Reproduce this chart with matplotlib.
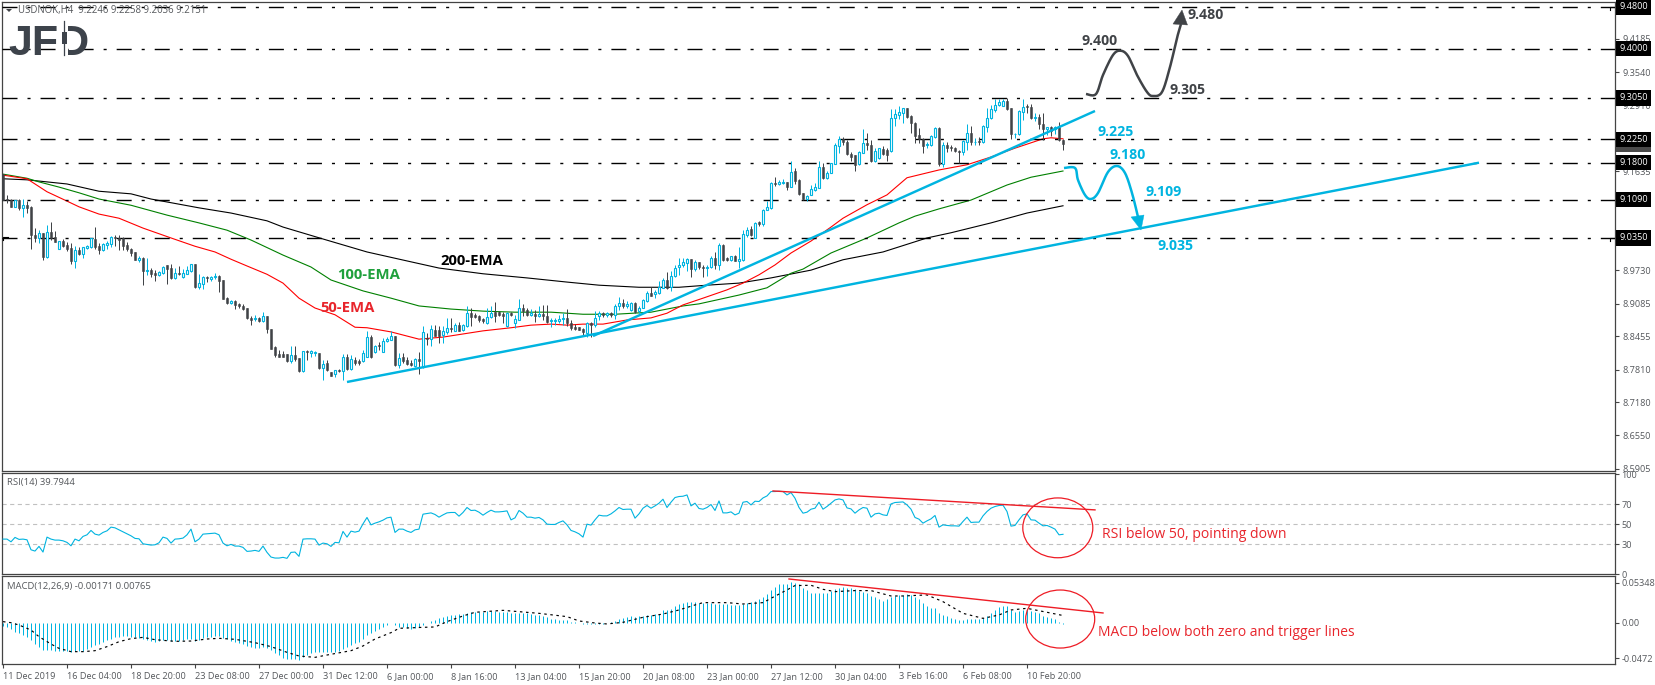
import numpy as np
import matplotlib
matplotlib.use("Agg")
import matplotlib.pyplot as plt
from matplotlib.patches import Ellipse, Polygon, Rectangle
from matplotlib.lines import Line2D
from matplotlib.transforms import ScaledTranslation

W, H = 1655, 685
plt.rcParams['font.family'] = ['Open Sans', 'DejaVu Sans']
plt.rcParams['lines.scale_dashes'] = False

symbol_title = "USDNOK,H4  9.2246 9.2258 9.2036 9.2151"
rsi_title = "RSI(14) 39.7944"
macd_title = "MACD(12,26,9) -0.00171 0.00765"

opens = [9.158,9.111,9.109,9.095,9.109,9.093,9.098,9.095,9.041,9.034,9.044,8.998,9.047,9.036,9.014,9.029,9.022,9.016,8.991,9.012,9.005,9.016,9.018,9.033,9.020,9.012,9.022,9.024,9.037,9.035,9.034,9.022,9.014,9.007,8.992,8.997,8.972,8.973,8.968,8.964,8.967,8.982,8.977,8.957,8.968,8.959,8.966,8.971,8.985,8.941,8.947,8.960,8.955,8.959,8.962,8.954,8.919,8.910,8.914,8.907,8.904,8.900,8.880,8.878,8.881,8.875,8.885,
8.860,8.824,8.811,8.811,8.811,8.797,8.809,8.803,8.778,8.817,8.814,8.814,8.814,8.784,8.794,8.776,8.772,8.781,8.778,8.805,8.782,8.800,8.798,8.797,8.806,8.845,8.815,8.828,8.816,8.836,8.839,8.846,8.790,8.805,8.800,8.795,8.789,8.801,8.787,8.842,8.841,8.858,8.857,8.848,8.853,8.862,8.856,8.868,8.857,8.866,8.891,8.887,8.885,8.878,8.871,8.882,8.893,8.892,8.889,8.866,8.890,8.872,8.877,8.901,8.896,8.887,8.889,8.885,
8.889,8.885,8.875,8.875,8.875,8.878,8.880,8.872,8.864,8.863,8.860,8.851,8.871,8.867,8.884,8.891,8.887,8.890,8.887,8.903,8.909,8.904,8.896,8.910,8.894,8.901,8.914,8.928,8.927,8.928,8.939,8.954,8.940,8.961,8.979,8.983,8.987,8.994,8.975,8.988,8.980,8.977,8.979,8.997,8.983,9.022,8.996,8.993,9.001,8.991,8.993,9.041,9.052,9.035,9.065,9.062,9.088,9.092,9.140,9.138,9.140,9.142,9.134,9.164,9.147,9.121,9.110,
9.118,9.127,9.132,9.172,9.150,9.161,9.178,9.213,9.225,9.220,9.196,9.194,9.178,9.199,9.217,9.215,9.183,9.190,9.206,9.205,9.203,9.267,9.272,9.276,9.285,9.269,9.256,9.233,9.226,9.214,9.214,9.229,9.246,9.177,9.215,9.211,9.208,9.203,9.201,9.220,9.238,9.219,9.222,9.219,9.249,9.267,9.281,9.291,9.290,9.299,9.285,9.235,9.235,9.278,9.289,9.288,9.267,9.268,9.254,9.244,9.248,9.245,9.248,9.2246]
highs = [9.158,9.118,9.111,9.109,9.110,9.110,9.107,9.096,9.054,9.050,9.045,9.060,9.066,9.049,9.030,9.033,9.027,9.025,9.020,9.017,9.018,9.022,9.035,9.056,9.025,9.026,9.029,9.039,9.040,9.040,9.036,9.028,9.015,9.007,9.000,8.998,8.997,8.977,8.973,8.972,8.981,8.982,8.985,8.977,8.981,8.975,8.981,8.985,8.985,8.966,8.962,8.961,8.961,8.968,8.964,8.954,8.922,8.916,8.916,8.909,8.907,8.900,8.884,8.887,8.882,8.893,8.885,
8.860,8.826,8.819,8.818,8.811,8.826,8.826,8.803,8.818,8.819,8.819,8.818,8.814,8.800,8.800,8.776,8.781,8.782,8.812,8.812,8.810,8.805,8.801,8.819,8.856,8.848,8.829,8.835,8.842,8.845,8.855,8.846,8.813,8.814,8.806,8.800,8.803,8.816,8.866,8.851,8.867,8.868,8.866,8.866,8.880,8.880,8.871,8.873,8.870,8.903,8.901,8.890,8.887,8.880,8.901,8.903,8.912,8.894,8.893,8.893,8.893,8.887,8.917,8.908,8.901,8.898,8.896,8.903,
8.906,8.906,8.880,8.880,8.887,8.891,8.898,8.877,8.869,8.864,8.862,8.874,8.874,8.894,8.895,8.893,8.892,8.892,8.908,8.922,8.917,8.914,8.912,8.912,8.903,8.918,8.932,8.940,8.934,8.953,8.957,8.970,8.972,8.983,8.997,8.996,8.996,8.995,8.993,8.989,8.983,8.983,9.000,9.007,9.025,9.023,8.998,9.001,9.002,9.018,9.050,9.056,9.058,9.066,9.068,9.090,9.107,9.143,9.152,9.147,9.148,9.143,9.183,9.169,9.148,9.122,9.117,
9.137,9.140,9.183,9.179,9.164,9.180,9.217,9.232,9.230,9.224,9.201,9.195,9.202,9.244,9.237,9.224,9.208,9.209,9.213,9.208,9.283,9.283,9.290,9.286,9.286,9.272,9.258,9.247,9.228,9.219,9.233,9.248,9.249,9.219,9.220,9.215,9.211,9.204,9.224,9.254,9.251,9.227,9.230,9.253,9.285,9.292,9.303,9.303,9.303,9.304,9.286,9.238,9.281,9.303,9.294,9.294,9.275,9.273,9.275,9.249,9.251,9.250,9.258,9.2258]
lows = [9.109,9.103,9.095,9.095,9.088,9.076,9.084,9.013,9.028,9.025,8.993,8.997,9.031,9.027,9.014,9.017,9.009,8.985,8.977,9.003,8.996,9.014,9.016,9.013,9.005,9.009,9.014,9.017,9.020,9.011,9.011,9.009,9.000,8.992,8.989,8.945,8.964,8.959,8.953,8.961,8.966,8.946,8.956,8.955,8.963,8.958,8.966,8.970,8.939,8.937,8.936,8.951,8.953,8.955,8.931,8.917,8.907,8.908,8.899,8.901,8.897,8.879,8.868,8.875,8.873,8.874,8.851,
8.821,8.806,8.805,8.805,8.796,8.794,8.797,8.777,8.776,8.800,8.805,8.808,8.783,8.762,8.779,8.769,8.768,8.776,8.762,8.781,8.781,8.790,8.790,8.796,8.805,8.803,8.814,8.819,8.815,8.835,8.838,8.789,8.784,8.794,8.790,8.788,8.787,8.773,8.784,8.828,8.827,8.846,8.832,8.832,8.850,8.853,8.855,8.855,8.855,8.864,8.866,8.880,8.874,8.872,8.869,8.880,8.874,8.884,8.871,8.864,8.884,8.861,8.876,8.885,8.884,8.884,8.874,8.882,
8.877,8.872,8.864,8.867,8.872,8.867,8.866,8.858,8.858,8.857,8.848,8.845,8.845,8.864,8.877,8.882,8.883,8.882,8.878,8.896,8.901,8.901,8.895,8.890,8.890,8.900,8.912,8.923,8.919,8.927,8.938,8.937,8.932,8.959,8.964,8.980,8.972,8.960,8.972,8.976,8.959,8.961,8.978,8.976,8.973,8.991,8.991,8.991,8.990,8.977,8.991,9.036,9.039,9.034,9.058,9.058,9.088,9.090,9.135,9.137,9.139,9.127,9.133,9.138,9.118,9.108,9.107,
9.117,9.125,9.131,9.149,9.149,9.160,9.177,9.198,9.214,9.195,9.183,9.164,9.176,9.198,9.204,9.182,9.181,9.188,9.195,9.183,9.201,9.251,9.265,9.256,9.267,9.238,9.217,9.217,9.199,9.208,9.213,9.228,9.174,9.172,9.201,9.203,9.201,9.179,9.195,9.204,9.215,9.215,9.214,9.217,9.240,9.265,9.278,9.290,9.289,9.282,9.225,9.227,9.233,9.262,9.275,9.265,9.260,9.244,9.224,9.233,9.232,9.236,9.222,9.2036]
closes = [9.109,9.108,9.095,9.108,9.093,9.098,9.093,9.040,9.034,9.044,8.998,9.046,9.034,9.028,9.029,9.020,9.014,8.991,9.012,9.004,9.017,9.020,9.034,9.018,9.011,9.023,9.025,9.037,9.034,9.032,9.020,9.013,9.006,8.993,8.997,8.972,8.973,8.966,8.964,8.970,8.980,8.976,8.957,8.968,8.966,8.968,8.973,8.984,8.941,8.948,8.960,8.957,8.960,8.962,8.953,8.918,8.909,8.913,8.905,8.903,8.898,8.880,8.877,8.880,8.875,8.885,8.859,
8.822,8.809,8.806,8.806,8.797,8.809,8.801,8.778,8.817,8.815,8.817,8.815,8.784,8.792,8.780,8.769,8.780,8.778,8.806,8.782,8.802,8.794,8.794,8.814,8.845,8.805,8.826,8.826,8.836,8.840,8.846,8.790,8.804,8.798,8.792,8.790,8.802,8.797,8.853,8.840,8.859,8.846,8.846,8.855,8.861,8.859,8.868,8.855,8.868,8.890,8.882,8.882,8.876,8.875,8.882,8.890,8.885,8.887,8.885,8.890,8.887,8.878,8.901,8.895,8.887,8.890,8.884,8.888,
8.884,8.873,8.877,8.877,8.879,8.881,8.871,8.862,8.860,8.858,8.853,8.872,8.868,8.880,8.890,8.887,8.890,8.887,8.904,8.909,8.903,8.907,8.910,8.893,8.901,8.916,8.928,8.924,8.930,8.940,8.954,8.939,8.962,8.977,8.983,8.988,8.994,8.976,8.988,8.979,8.978,8.980,8.996,8.983,9.021,8.992,8.993,9.000,8.991,8.994,9.042,9.050,9.041,9.063,9.062,9.089,9.094,9.140,9.138,9.142,9.142,9.134,9.163,9.145,9.119,9.110,9.115,
9.129,9.134,9.172,9.150,9.161,9.179,9.214,9.225,9.219,9.196,9.191,9.176,9.200,9.217,9.215,9.183,9.202,9.208,9.196,9.195,9.267,9.273,9.277,9.285,9.268,9.256,9.232,9.225,9.213,9.216,9.231,9.246,9.177,9.214,9.208,9.208,9.203,9.201,9.222,9.238,9.219,9.220,9.219,9.251,9.267,9.283,9.292,9.296,9.299,9.283,9.235,9.236,9.280,9.288,9.287,9.267,9.268,9.254,9.244,9.248,9.242,9.248,9.224,9.2151]

ema50_bar = [0,6,11,16,19,24,29,35,42,48,53,57,61,66,70,74,78,83,88,91,97,101,104,110,115,120,127,132,137,141,145,150,156,162,166,170,175,181,185,189,193,197,202,207,210,216,221,226,234,241,247,253,260,262,265]
ema50_val = [9.156,9.149,9.124,9.106,9.095,9.081,9.073,9.054,9.035,9.019,9.008,8.994,8.981,8.965,8.948,8.919,8.900,8.887,8.863,8.862,8.854,8.846,8.840,8.844,8.850,8.856,8.862,8.867,8.869,8.867,8.869,8.869,8.877,8.881,8.890,8.906,8.919,8.935,8.948,8.964,8.983,9.006,9.029,9.056,9.073,9.099,9.118,9.151,9.166,9.176,9.191,9.208,9.226,9.228,9.226]
ema100_bar = [0,6,9,14,19,24,32,41,49,56,62,70,77,82,90,97,104,112,120,128,137,145,153,162,170,174,184,191,197,200,207,216,224,228,234,242,251,257,265]
ema100_val = [9.158,9.150,9.143,9.133,9.122,9.110,9.098,9.079,9.064,9.050,9.031,9.002,8.979,8.954,8.933,8.919,8.904,8.898,8.894,8.892,8.892,8.888,8.888,8.892,8.904,8.908,8.925,8.939,8.967,8.975,9.006,9.035,9.064,9.077,9.091,9.108,9.137,9.152,9.164]
ema200_bar = [0,6,16,24,32,37,49,57,66,70,80,91,102,109,120,131,141,149,159,169,176,184,192,202,210,220,231,237,247,256,265]
ema200_val = [9.149,9.147,9.139,9.125,9.120,9.110,9.093,9.083,9.068,9.056,9.033,9.008,8.989,8.977,8.966,8.958,8.950,8.944,8.940,8.940,8.944,8.948,8.958,8.973,8.993,9.008,9.035,9.045,9.064,9.083,9.097]

levels = [9.48,9.40,9.305,9.225,9.18,9.109,9.035]
level_labels = ['9.4800','9.4000','9.3050','9.2250','9.1800','9.1090','9.0350']
price_ticks = [9.4185,9.3540,9.2910,9.1635,9.1005,8.9730,8.9085,8.8455,8.7810,8.7180,8.6550,8.5905]
last_price = 9.2151

rsi = [35,35,32.3,36.7,34.7,35,34.3,24.3,23,27.7,22,37,35,34,34,33.3,31.7,28.3,35,33.3,37.7,39.3,43.7,40,39,41.7,43.3,47,46.3,44.3,42.3,40.3,38.3,35.7,35.3,30.3,29.7,29,29.3,31.3,37,35.7,31,35,35.3,36,39.3,45,32.3,35,40,40.3,40.7,41,39.3,31,28.3,29.7,28,28,26.7,22.7,23,23.7,22.7,28,21.7,17,16,16,16.7,15.7,21.7,22,17.7,35,35.3,35.3,35,29,31,30.3,27.7,31.7,31.3,42.7,37,43,42,43,50.3,56.7,49.3,51,52.3,54,56.3,57,41.7,45,45,43,41.7,44.3,45,60,60.7,61.3,59.7,57,59.3,61.3,61.7,61.7,58,61.7,66.7,63.7,64,62,59,61.7,64,62.3,62.3,
62.7,63.3,54.3,56.3,63.7,61,57,57,56,56.7,54.3,50,49.7,49.7,51.7,53.3,49.3,43.7,42.3,40.3,37,50,49,54.3,59,58.3,58.3,60.3,63.3,66.7,64.7,65,65,56,60.3,66,68.7,66,68.3,71,75,66.7,72,76.7,77.7,78,79.3,68.3,71,65.7,65,66.7,69.7,63.7,73.3,61.3,61.3,62.3,59.3,61,72,72.7,69.3,73,72.7,76.3,78.3,82.7,82.7,83,82.7,79.3,81.7,76,66.7,61,62,65,66,72,65,67.7,71,74.3,75.3,74.3,66.3,65.3,61,64.3,66.7,66,57,60.3,61,59.3,58.7,70.3,71.7,72,72.3,69.3,65,56.7,55,51,53.3,55.3,58.7,47,49.3,48.7,48.3,48.3,48,52.7,57,51.7,52,52,58.3,62.7,66,67.7,68.7,69,62.7,48,48.7,54.3,59.3,60.3,54.3,54,51,48.3,48.7,47,45,39.3,39.8]
rsi_levels = [70,50,30]
rsi_ticks = [100,70,50,30,0]

macd_hist = [-.0040,-.0049,-.0085,-.0116,-.0138,-.0161,-.0183,-.0227,-.0281,-.0317,-.0361,-.0361,-.0361,-.0370,-.0370,-.0370,-.0379,-.0388,-.0379,-.0375,-.0370,-.0352,-.0317,-.0294,-.0281,-.0259,-.0227,-.0214,-.0192,-.0183,-.0169,-.0169,-.0183,-.0192,-.0205,-.0214,-.0227,-.0241,-.0250,-.0245,-.0227,-.0227,-.0241,-.0245,-.0245,-.0232,-.0219,-.0219,-.0236,-.0227,-.0205,-.0192,-.0183,-.0178,-.0178,-.0196,-.0219,-.0236,-.0259,-.0272,-.0281,-.0303,-.0321,-.0330,-.0330,-.0326,-.0339,-.0361,-.0397,-.0428,-.0464,-.0477,-.0477,-.0477,-.0491,-.0459,-.0433,-.0406,-.0392,-.0384,-.0388,-.0388,-.0388,-.0388,-.0370,-.0352,-.0326,-.0299,-.0272,-.0250,-.0214,-.0161,-.0138,-.0103,-.0076,-.0049,-.0027,.0002,-.0027,-.0049,-.0058,-.0071,-.0076,-.0071,-.0049,-.0027,.0005,.0027,.0040,.0062,.0085,.0094,.0103,.0107,.0116,.0120,.0138,.0152,.0152,.0152,.0152,.0161,.0165,.0161,.0152,
.0147,.0147,.0138,.0134,.0134,.0129,.0129,.0116,.0112,.0107,.0094,.0076,.0054,.0049,.0040,.0040,.0036,.0018,.0009,.0002,-.0013,-.0018,-.0018,-.0013,-.0013,-.0013,-.0004,.0018,.0031,.0049,.0062,.0076,.0089,.0085,.0089,.0094,.0103,.0112,.0120,.0125,.0174,.0174,.0187,.0227,.0254,.0263,.0277,.0285,.0281,.0263,.0272,.0263,.0263,.0259,.0259,.0254,.0250,.0245,.0241,.0241,.0254,.0263,.0281,.0290,.0317,.0352,.0384,.0442,.0486,.0517,.0522,.0522,.0553,.0540,.0517,.0464,.0442,.0406,.0397,.0397,.0397,.0406,.0433,.0450,.0464,.0482,.0473,.0464,.0450,.0433,.0419,.0406,.0361,.0343,.0317,.0299,.0321,.0352,.0361,.0370,.0375,.0388,.0375,.0343,.0317,.0263,.0232,.0205,.0196,.0129,.0107,.0094,.0071,.0049,.0040,.0040,.0049,.0049,.0049,.0049,.0062,.0094,.0129,.0174,.0210,.0227,.0227,.0174,.0152,.0165,.0174,.0183,.0165,.0152,.0129,.0094,.0085,.0062,.0049,.0018,-.0017]
signal_bar = [0,2,4,7,9,12,14,17,20,23,26,29,32,35,38,43,47,51,54,58,63,67,71,74,78,81,87,90,93,97,99,105,108,111,115,118,124,125,130,134,141,144,148,151,155,160,165,169,173,175,181,185,190,192,196,198,202,205,208,213,217,222,225,231,235,240,245,249,252,256,261,265]
signal_val = [.0018,.0004,-.0027,-.0094,-.0183,-.0281,-.0339,-.0383,-.0383,-.0370,-.0316,-.0250,-.0209,-.0192,-.0223,-.0245,-.0241,-.0214,-.0205,-.0218,-.0263,-.0316,-.0392,-.0441,-.0459,-.0428,-.0370,-.0307,-.0214,-.0129,-.0071,-.0058,-.0053,.0018,.0094,.0143,.0165,.0169,.0147,.0129,.0085,.0027,0,-.0013,.0009,.0076,.0120,.0174,.0241,.0272,.0272,.0254,.0272,.0330,.0442,.0500,.0504,.0450,.0419,.0433,.0433,.0361,.0361,.0375,.0285,.0129,.0062,.0107,.0174,.0196,.0143,.0100]
macd_ticks = [0.05348,0.0,-0.0472]
macd_tick_labels = ['0.05348','0.00','-0.0472']

date_labels = ['11 Dec 2019','16 Dec 04:00','18 Dec 20:00','23 Dec 08:00','27 Dec 00:00','31 Dec 12:00','6 Jan 00:00','8 Jan 16:00','13 Jan 04:00','15 Jan 20:00','20 Jan 08:00','23 Jan 00:00','27 Jan 12:00','30 Jan 04:00','3 Feb 16:00','6 Feb 08:00','10 Feb 20:00']
date_bars = list(range(0, 17*16, 16))

support_bar, support_val = [86, 369], [8.7575, 9.18]
rising_bar, rising_val = [147.5, 273], [8.846, 9.2796]
rsi_trend_bar, rsi_trend_val = [192.5, 273], [83.3, 64.3]
macd_trend_bar, macd_trend_val = [196.5, 275], [0.0588, 0.0134]

BLUE = '#00b4e0'
DARK = '#404347'
FRAME = '#444444'
GRAYTXT = '#55585c'
RED = '#ee1c25'
RL = '#e8252c'
TICK = 6.6

def axes_px(x0, y0, x1, y1):
    return fig.add_axes([x0/W, 1-y1/H, (x1-x0)/W, (y1-y0)/H])

fig = plt.figure(figsize=(W/100, H/100), dpi=100)
ax = axes_px(2, 2, 1615, 471)
ax_r = axes_px(2, 473, 1615, 574)
ax_m = axes_px(2, 576, 1615, 664)
xlim = (-0.25, 403)
for a in (ax, ax_r, ax_m):
    a.set_xlim(*xlim)
    a.yaxis.tick_right()
    for s in a.spines.values():
        s.set_color(FRAME); s.set_linewidth(0.9)
    a.tick_params(axis='y', colors=FRAME, length=3, width=0.8, pad=2.5, labelsize=TICK, labelcolor=GRAYTXT)
    a.tick_params(axis='x', length=0, labelbottom=False, bottom=False)

# main panel
ax.set_ylim(8.586, 9.4896)
ax.plot(ema200_bar, ema200_val, color='black', lw=0.8, zorder=2)
ax.plot(ema100_bar, ema100_val, color='#008000', lw=0.8, zorder=2)
ax.plot(ema50_bar, ema50_val, color='#ff0000', lw=0.8, zorder=2)
ax.hlines(levels, *xlim, colors='black', lw=1.0, linestyles=[(0, (10.8, 7.2, 2.2, 7.2))], zorder=3)

idx = np.arange(len(closes))
o, h, l, c = map(np.array, (opens, highs, lows, closes))
bull = c >= o
ax.vlines(idx[bull], l[bull], h[bull], color=BLUE, lw=0.72, zorder=4)
ax.vlines(idx[~bull], l[~bull], h[~bull], color=DARK, lw=0.72, zorder=4)
ax.bar(idx[bull], (c-o)[bull], bottom=o[bull], width=0.62, facecolor='white', edgecolor=BLUE, linewidth=0.8, zorder=5)
ax.bar(idx[~bull], (o-c)[~bull], bottom=c[~bull], width=0.72, facecolor=DARK, edgecolor=DARK, linewidth=0.4, zorder=5)

ax.plot(support_bar, support_val, color=BLUE, lw=1.75, zorder=6, solid_capstyle='butt')
ax.plot(rising_bar, rising_val, color=BLUE, lw=1.75, zorder=6, solid_capstyle='butt')

ax.set_yticks(price_ticks)
ax.set_yticklabels([f'{v:.4f}' for v in price_ticks])

def box(val, txt, fc, z):
    ax.text(1.0028, val, txt, transform=ax.get_yaxis_transform(), color='white', fontsize=TICK, va='center', ha='left',
            zorder=z, clip_on=False, bbox=dict(boxstyle='square,pad=0.36', fc=fc, ec=fc, lw=0))
box(last_price, f'{last_price:.4f}', '#4a4a4a', 20)
for v, t in zip(levels, level_labels):
    box(v, t, 'black', 21)

# RSI panel
ax_r.set_ylim(0.3, 101.3)
ax_r.hlines(rsi_levels, *xlim, colors='#c0c0c0', lw=0.8, linestyles=[(0, (3, 2.5))], zorder=1)
ax_r.plot(np.arange(len(rsi)), rsi, color=BLUE, lw=0.8, zorder=3)
ax_r.plot(rsi_trend_bar, rsi_trend_val, color=RED, lw=1.0, zorder=4)
ax_r.set_yticks(rsi_ticks)
ax_r.set_yticklabels([str(v) for v in rsi_ticks])
for lab, shift in zip(ax_r.get_yticklabels(), [-7, 0, 0, 0, 7]):
    lab.set_transform(lab.get_transform() + ScaledTranslation(0, shift/100, fig.dpi_scale_trans))
ax_r.tick_params(axis='y', pad=1.5)

# MACD panel
ax_m.set_ylim(-0.0548, 0.0628)
ax_m.vlines(np.arange(len(macd_hist)), 0, macd_hist, color=BLUE, lw=0.72, zorder=2)
ax_m.plot(signal_bar, signal_val, color='black', lw=0.85, linestyle=(0, (1.8, 2.6)), zorder=3)
ax_m.plot(macd_trend_bar, macd_trend_val, color=RED, lw=1.0, zorder=4)
ax_m.set_yticks(macd_ticks)
ax_m.set_yticklabels(macd_tick_labels)
ax_m.tick_params(axis='y', pad=1.5)
ax_m.set_xticks(date_bars)
ax_m.set_xticklabels(date_labels, ha='left', fontsize=TICK, color=GRAYTXT)
ax_m.tick_params(axis='x', length=3, width=0.8, color=FRAME, pad=3, labelbottom=True, bottom=True)

# circles around the last readings
ax_r.add_patch(Ellipse((263.7, 46.3), 17.5, 60, fill=False, ec=RED, lw=0.9, zorder=6, clip_on=False))
ax_m.add_patch(Ellipse((264.3, 0.0053), 17.25, 58/748, fill=False, ec=RED, lw=0.9, zorder=6, clip_on=False))

# overlay text and hand-drawn scenario paths, placed in figure pixels
def fx(x): return x/W
def fy(y): return 1-y/H
def label(x, y, s, color, size=10.2, weight='bold', va='center', family=None):
    fig.text(fx(x), fy(y), s, color=color, fontsize=size, fontweight=weight, va=va, ha='left',
             family=family or ['Open Sans', 'DejaVu Sans'], zorder=30)

def smooth(points, n=14):
    p = np.array(points, float)
    p = np.vstack([p[0], p, p[-1]])
    out = []
    for i in range(1, len(p)-2):
        for t in np.linspace(0, 1, n, endpoint=False):
            a, b, d, e = p[i-1], p[i], p[i+1], p[i+2]
            out.append(0.5*((2*b)+(-a+d)*t+(2*a-5*b+4*d-e)*t*t+(-a+3*b-3*d+e)*t**3))
    out.append(p[-2])
    return np.array(out)

up_path = [(1086,94),(1096,94),(1103,75),(1113,55),(1120.5,50.7),(1128,56),(1137,75),(1147,92),(1153,96),(1162,92),(1170,67),(1177,38),(1181,24)]
up_head = [(1173,24),(1187.5,25),(1182,10)]
down_path = [(1064,168),(1075,168),(1078,180),(1085,195),(1091,199),(1098,193),(1108,172),(1117,166),(1125,173),(1132,193),(1138,217)]
down_head = [(1131,217),(1144,215),(1141,230)]
for path, head, col in ((up_path, up_head, DARK), (down_path, down_head, BLUE)):
    s = smooth(path)
    fig.add_artist(Line2D(s[:, 0]/W, 1-s[:, 1]/H, color=col, lw=1.8, zorder=25, solid_capstyle='butt', transform=fig.transFigure))
    hp = np.array(head, float)
    fig.add_artist(Polygon(np.c_[hp[:, 0]/W, 1-hp[:, 1]/H], closed=True, fc=col, ec=col, lw=0.3, zorder=26, transform=fig.transFigure))

label(1188, 15, '9.480', DARK)
label(1082, 41, '9.400', DARK)
label(1170, 90, '9.305', DARK)
label(1098, 132, '9.225', BLUE)
label(1109, 155, '9.180', BLUE)
label(1145, 192, '9.109', BLUE)
label(1157, 246, '9.035', BLUE)
label(440, 261, '200-EMA', 'black', 10.7)
label(337, 275, '100-EMA', '#1fa03c', 10.7)
label(320, 308, '50-EMA', RL, 10.7)
label(1102, 534, 'RSI below 50, pointing down', RL, 10.1, 'normal')
label(1098, 632, 'MACD below both zero and trigger lines', RL, 10.0, 'normal')

label(18, 11, symbol_title, GRAYTXT, 6.9, 'normal')
label(7, 483, rsi_title, GRAYTXT, 6.8, 'normal')
label(7, 586, macd_title, GRAYTXT, 6.8, 'normal')
fig.add_artist(Polygon([(6/W, 1-9/H), (12/W, 1-9/H), (9/W, 1-12/H)], closed=True, fc=DARK, ec=DARK, lw=0, transform=fig.transFigure, zorder=30))

# small price-label hooks at the ends of two level lines
for hy in (7, 238):
    fig.add_artist(Line2D([1610/W, 1610/W, 1614/W], [1-(hy+3)/H, 1-hy/H, 1-hy/H], color='black', lw=0.8, transform=fig.transFigure, zorder=12))
fig.add_artist(Line2D([3/W, 3/W, 8/W], [1-240/H, 1-237/H, 1-237/H], color='black', lw=0.8, transform=fig.transFigure, zorder=12))

# logo
LOGO = '#3d434b'
fig.text(fx(8), fy(55), 'JFD', color=LOGO, fontsize=31, fontweight='bold', family='Liberation Sans',
         va='baseline', ha='left', zorder=30)
fig.add_artist(Rectangle((60/W, 1-56/H), 8/W, 36/H, fc='white', ec='none', transform=fig.transFigure, zorder=31))
fig.add_artist(Line2D([64/W, 64/W], [1-55/H, 1-21/H], color=LOGO, lw=0.9, transform=fig.transFigure, zorder=32))
fig.add_artist(Rectangle((61.5/W, 1-44/H), 5/W, 12/H, fc=LOGO, ec='none', transform=fig.transFigure, zorder=32))

fig.savefig('out.png', dpi=100)
